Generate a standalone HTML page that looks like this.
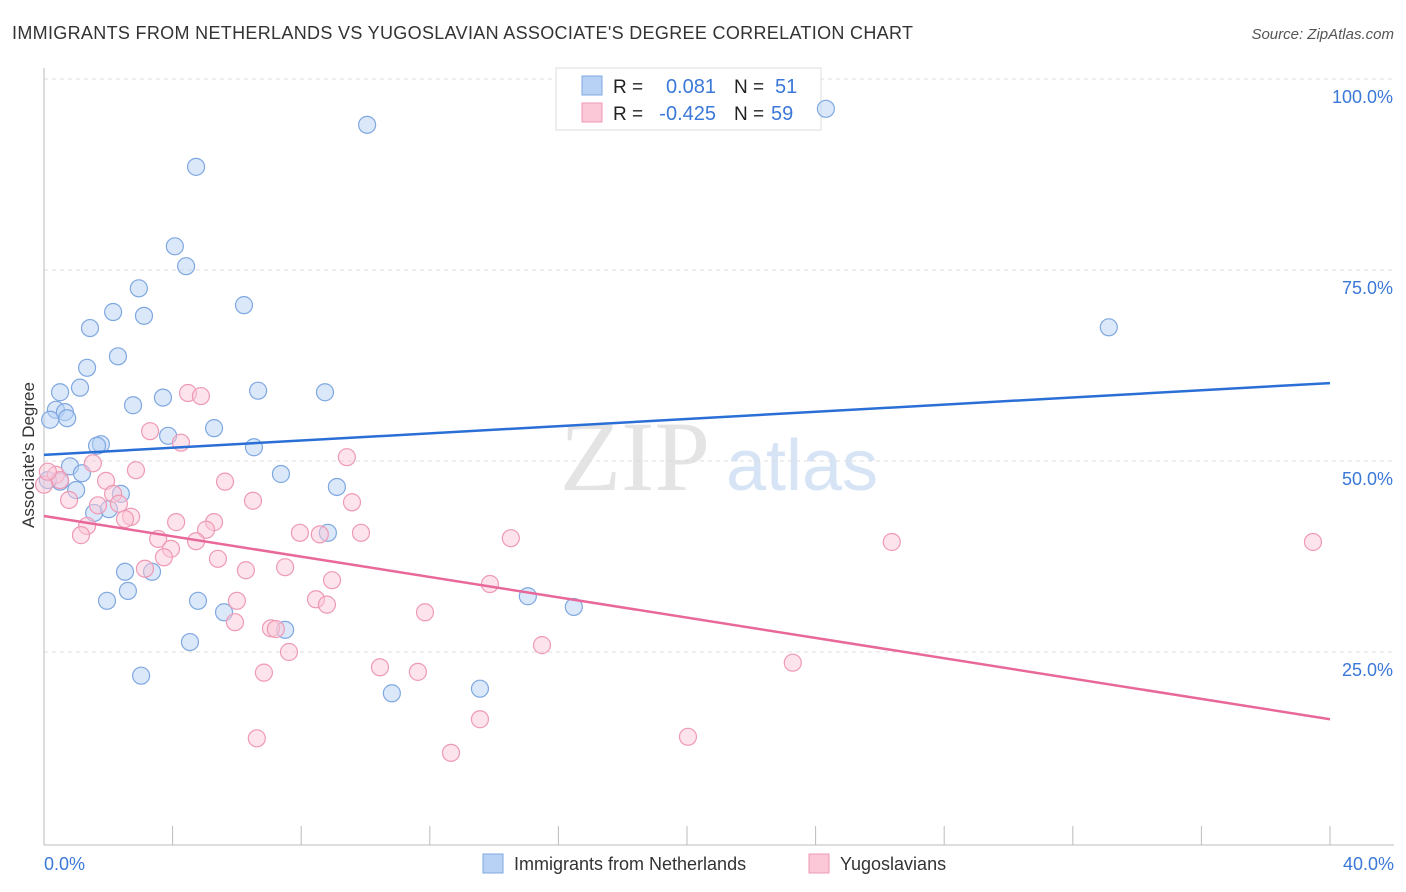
<!DOCTYPE html>
<html><head><meta charset="utf-8"><style>
body{margin:0;background:#fff;font-family:"Liberation Sans",sans-serif;}
svg{display:block}
</style></head><body>
<svg id="chart" width="1406" height="892">
<text x="12" y="39" font-size="18" fill="#333" textLength="901">IMMIGRANTS FROM NETHERLANDS VS YUGOSLAVIAN ASSOCIATE'S DEGREE CORRELATION CHART</text>
<text x="1394" y="39" font-size="15" fill="#555" font-style="italic" text-anchor="end">Source: ZipAtlas.com</text>
<text x="635" y="490" font-size="100" fill="#e4e4e4" font-family="Liberation Serif" text-anchor="middle">ZIP</text>
<text x="802" y="490" font-size="72" fill="#d6e4f5" text-anchor="middle">atlas</text>
<text transform="translate(34,455) rotate(-90)" font-size="17" fill="#333" text-anchor="middle">Associate's Degree</text>
<g id="grid"></g>
<g>
<rect x="556" y="68" width="265" height="62" fill="#fff" stroke="#ddd"/>
<rect x="582" y="76" width="20" height="19" fill="#b8d2f5" stroke="#7fa8e0"/>
<rect x="582" y="103" width="20" height="19" fill="#fbc8d8" stroke="#ee9ab5"/>
<text x="613" y="93" font-size="19" fill="#222">R = </text><text x="716" y="93" font-size="20" fill="#3b78d8" text-anchor="end">0.081</text>
<text x="734" y="93" font-size="19" fill="#222">N = </text><text x="775" y="93" font-size="20" fill="#3b78d8">51</text>
<text x="613" y="120" font-size="19" fill="#222">R = </text><text x="716" y="120" font-size="20" fill="#3b78d8" text-anchor="end">-0.425</text>
<text x="734" y="120" font-size="19" fill="#222">N = </text><text x="771" y="120" font-size="20" fill="#3b78d8">59</text>
</g>
<g id="pts"></g><g id="lines"></g>
<g>
<rect x="483" y="854" width="20" height="19" fill="#b8d2f5" stroke="#7fa8e0"/>
<text x="514" y="870" font-size="18" fill="#333">Immigrants from Netherlands</text>
<rect x="809" y="854" width="20" height="19" fill="#fbc8d8" stroke="#ee9ab5"/>
<text x="840" y="870" font-size="18" fill="#333">Yugoslavians</text>
</g>
<text x="44" y="870" font-size="18" fill="#3b78d8">0.0%</text>
<text x="1394" y="870" font-size="18" fill="#3b78d8" text-anchor="end">40.0%</text>
</svg>
<script>
const yTicks=[25,50,75,100];
const yTickLabels=["25.0%","50.0%","75.0%","100.0%"];
const blueX=[10.05,24.32,4.73,4.07,4.42,2.95,2.15,3.11,6.22,1.43,2.30,1.34,0.50,1.12,6.66,8.74,2.77,3.70,0.37,0.65,0.72,0.19,5.29,3.86,1.77,1.65,6.53,0.81,1.18,7.37,0.50,1.00,9.11,2.39,1.56,2.02,8.83,2.52,3.36,2.61,1.96,4.79,15.05,16.48,5.60,7.50,4.54,3.02,10.82,13.56,33.12,0.12];
const blueY=[94.0,96.1,88.5,78.1,75.5,72.6,69.5,69.0,70.4,67.4,63.7,62.2,59.0,59.6,59.2,59.0,57.3,58.3,56.7,56.4,55.6,55.4,54.3,53.3,52.2,52.0,51.8,49.3,48.4,48.3,47.3,46.2,46.6,45.7,43.2,43.7,40.6,35.5,35.5,33.0,31.7,31.7,32.3,30.9,30.2,27.9,26.3,21.9,19.6,20.2,67.5,47.5];
const pinkX=[4.48,4.88,3.30,4.26,1.52,9.42,2.86,5.63,1.93,0.37,0,0.78,2.15,1.68,2.33,6.50,9.58,1.34,1.15,2.71,2.52,4.11,5.29,5.04,3.55,3.95,4.73,7.96,8.58,9.86,14.52,5.41,6.28,7.50,3.14,3.73,8.96,6.00,8.46,8.80,11.85,13.87,5.94,7.06,7.21,7.62,15.49,10.45,11.63,6.84,23.29,13.56,6.62,12.66,20.03,26.37,39.47,0.50,0.12];
const pinkY=[58.9,58.5,53.9,52.4,49.7,50.5,48.8,47.3,47.4,48.2,46.9,44.9,45.7,44.2,44.4,44.8,44.6,41.5,40.3,42.7,42.4,42.0,42.0,41.0,39.8,38.5,39.5,40.6,40.4,40.6,39.9,37.2,35.7,36.1,35.9,37.4,34.4,31.7,31.9,31.2,30.2,33.9,28.9,28.1,28.0,25.0,25.9,23.0,22.4,22.3,23.6,16.2,13.7,11.8,13.9,39.4,39.4,47.5,48.6];
const blueTrend=[50.8,60.2];
const pinkTrend=[42.8,16.2];
const NS="http://www.w3.org/2000/svg";
const X=v=>44+v/40*1286, Y=v=>843-v/100*764;
function mk(t,a,p){const e=document.createElementNS(NS,t);for(const k in a)e.setAttribute(k,a[k]);p.appendChild(e);return e;}
const g=document.getElementById('grid');
yTicks.forEach((t,i)=>{
 const l=mk('line',{x1:44,x2:1394,y1:Y(t),y2:Y(t),stroke:'#ddd','stroke-dasharray':'4,4'},g);
 
 
 const tx=mk('text',{x:1393,y:Y(t)+24,'font-size':18,fill:'#3b78d8','text-anchor':'end'},g);
 tx.textContent=yTickLabels[i];
 
 
});
const ax=mk('line',{x1:44,x2:44,y1:68,y2:845,stroke:'#bbb'},g);


const bx=mk('line',{x1:44,x2:1394,y1:845,y2:845,stroke:'#bbb'},g);


for(let i=0;i<=10;i++){const t=mk('line',{x1:X(i*4),x2:X(i*4),y1:826,y2:845,stroke:'#bbb'},g);
 
 }
const p=document.getElementById('pts');
function dots(xs,ys,f,s,n){xs.forEach((x,i)=>{const c=mk('circle',{cx:X(x),cy:Y(ys[i]),r:8.5,fill:f,'fill-opacity':0.5,stroke:s,'stroke-width':1.2},p);
 
 });}
dots(blueX,blueY,'#b8d2f5','#7fa8e0','netherlands-point');
dots(pinkX,pinkY,'#fbc8d8','#ee9ab5','yugoslavian-point');
const L=document.getElementById('lines');
const b=mk('line',{x1:X(0),y1:Y(blueTrend[0]),x2:X(40),y2:Y(blueTrend[1]),stroke:'#2a6fd6','stroke-width':2.5},L);


const q=mk('line',{x1:X(0),y1:Y(pinkTrend[0]),x2:X(40),y2:Y(pinkTrend[1]),stroke:'#e8689a','stroke-width':2.5},L);


</script>
</body></html>
